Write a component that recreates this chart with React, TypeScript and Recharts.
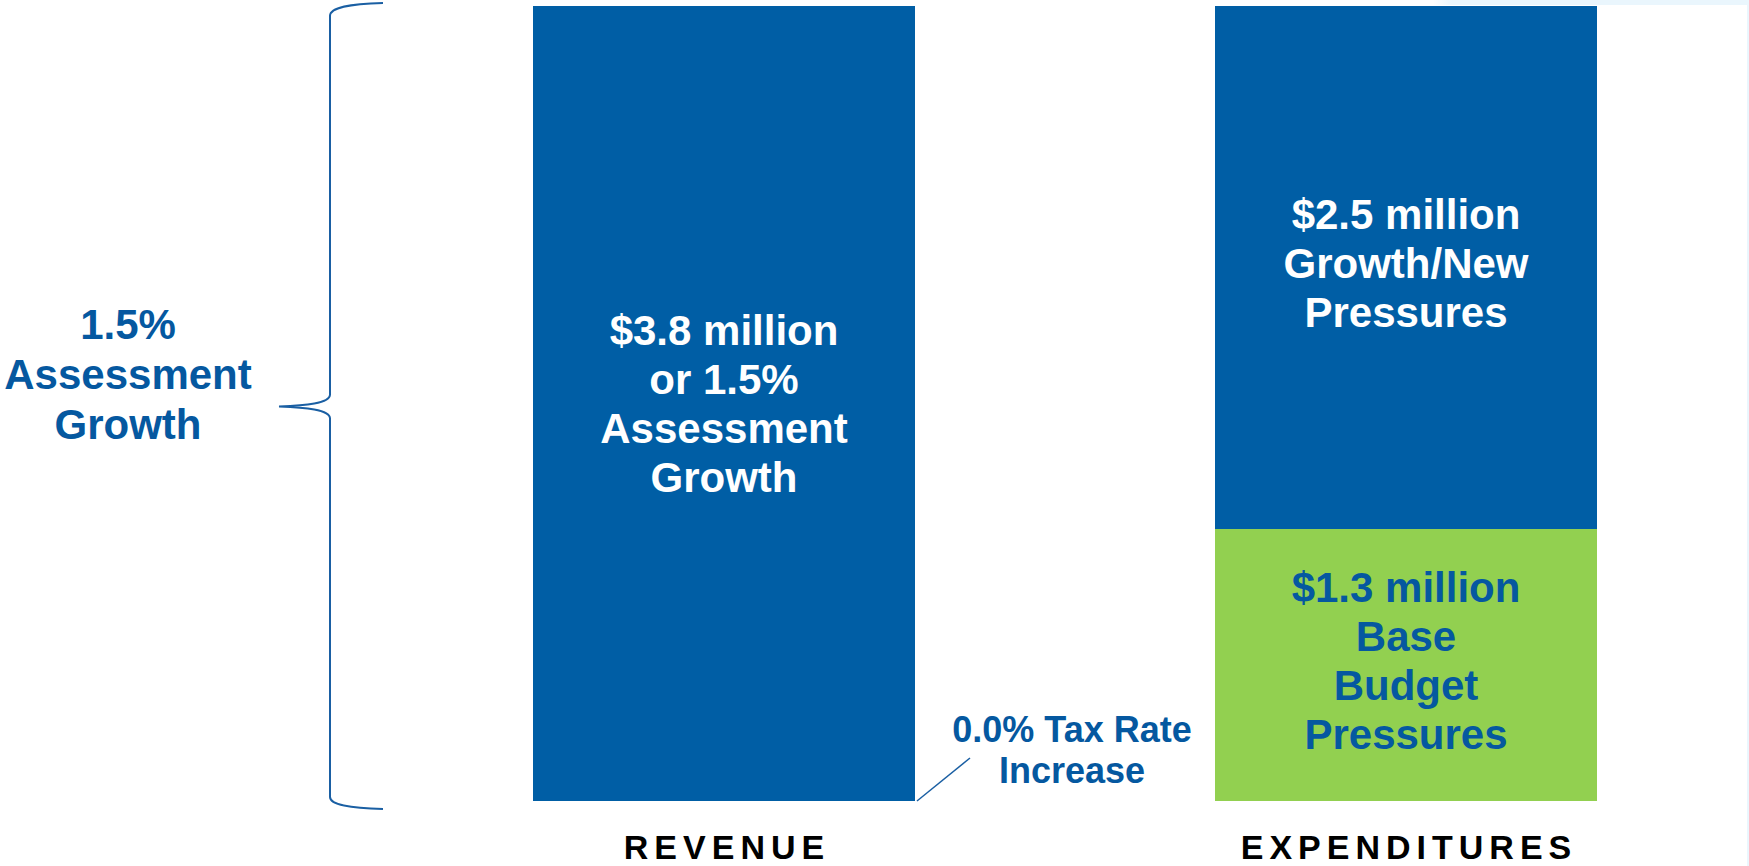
import { BarChart, Bar, XAxis, YAxis, LabelList } from 'recharts'

// categories and stacked values ($ millions)
const categories = ['REVENUE', 'EXPENDITURES']
const basePressures = [0, 1.3]
const growthPressures = [0, 2.5]
const assessmentGrowth = [3.8, 0]

// text written inside / beside the bars
const assessmentText = [['$3.8 million', 'or 1.5%', 'Assessment', 'Growth'], []]
const growthText = [[], ['$2.5 million', 'Growth/New', 'Pressures']]
const baseText = [[], ['$1.3 million', 'Base', 'Budget', 'Pressures']]
const taxText = [['0.0% Tax Rate', 'Increase'], []]
const braceText = [['1.5%', 'Assessment', 'Growth'], []]

const data = categories.map((category, i) => ({
  category,
  base: basePressures[i],
  growth: growthPressures[i],
  assessment: assessmentGrowth[i],
  baseLabel: baseText[i].join('\n'),
  growthLabel: growthText[i].join('\n'),
  assessmentLabel: assessmentText[i].join('\n'),
  taxLabel: taxText[i].join('\n'),
  braceLabel: braceText[i].join('\n'),
}))

const FONT = '"Liberation Sans", Arial, Helvetica, sans-serif'
const BLUE = '#005ea5'
const GREEN = '#92d050'
const TEXT_BLUE = '#0558a0'
const LINE_H = 49

const boxOf = (props: any) => {
  const vb = props.viewBox ?? props
  return { x: Number(vb.x), y: Number(vb.y), width: Number(vb.width), height: Number(vb.height) }
}

const rowsOf = (props: any) => (typeof props.value === 'string' && props.value ? props.value.split('\n') : [])

const barText = (color: string, shift: number) => (props: any) => {
  const rows = rowsOf(props)
  if (!rows.length) return null
  const { x, y, width, height } = boxOf(props)
  const cx = x + width / 2
  const cy = y + height / 2
  return (
    <text textAnchor="middle" fill={color} fontSize={42} fontWeight={700} fontFamily={FONT}>
      {rows.map((r: string, i: number) => (
        <tspan key={i} x={cx} y={cy + (i - (rows.length - 1) / 2) * LINE_H + shift}>{r}</tspan>
      ))}
    </text>
  )
}

// brace on the left of the revenue bar with its label
const renderBrace = (props: any) => {
  const rows = rowsOf(props)
  if (!rows.length) return null
  const { x, y, height } = boxOf(props)
  const bx = x - 203
  const bottom = y + height
  const mid = y + height / 2 + 3
  const d = [
    `M ${bx + 53} ${y - 3}`,
    `C ${bx + 20} ${y - 2} ${bx} ${y + 1} ${bx} ${y + 10}`,
    `L ${bx} ${mid - 12}`,
    `C ${bx} ${mid - 3} ${bx - 25} ${mid - 1} ${bx - 51} ${mid}`,
    `C ${bx - 25} ${mid + 1} ${bx} ${mid + 3} ${bx} ${mid + 12}`,
    `L ${bx} ${bottom - 4}`,
    `C ${bx} ${bottom + 4} ${bx + 20} ${bottom + 7} ${bx + 53} ${bottom + 8}`,
  ].join(' ')
  const tx = bx - 202
  return (
    <g>
      <path d={d} fill="none" stroke="#1a5fa3" strokeWidth={2} />
      <text textAnchor="middle" fill={TEXT_BLUE} fontSize={42} fontWeight={700} fontFamily={FONT}>
        {rows.map((r: string, i: number) => (
          <tspan key={i} x={tx} y={mid - 68 + i * 50}>{r}</tspan>
        ))}
      </text>
    </g>
  )
}

// leader line and text for the 0.0% tax rate increase, at the bottom right of the revenue bar
const renderTax = (props: any) => {
  const rows = rowsOf(props)
  if (!rows.length) return null
  const { x, y, width, height } = boxOf(props)
  const right = x + width
  const bottom = y + height
  return (
    <g>
      <line x1={right + 2} y1={bottom} x2={right + 55} y2={bottom - 43} stroke="#1a5fa3" strokeWidth={1.5} />
      <text textAnchor="middle" fill={TEXT_BLUE} fontSize={36} fontWeight={700} fontFamily={FONT}>
        {rows.map((r: string, i: number) => (
          <tspan key={i} x={right + 157} y={bottom - 59 + i * 41}>{r}</tspan>
        ))}
      </text>
    </g>
  )
}

const CategoryTick = (props: any) => {
  const { x, y, payload } = props
  return (
    <text
      x={x + 3}
      y={y}
      dy={50}
      textAnchor="middle"
      fill="#000"
      fontSize={34}
      fontWeight={700}
      fontFamily={FONT}
      letterSpacing={6}
    >
      {payload.value}
    </text>
  )
}

export default function App() {
  return (
    <div style={{ position: 'absolute', left: 0, top: 0, width: 1749, height: 866, background: '#fff' }}>
      <div
        style={{
          position: 'absolute',
          left: 1433,
          top: 0,
          width: 316,
          height: 5,
          background: 'linear-gradient(to right, #ffffff, #eaf6fd 6%)',
        }}
      />
      <div style={{ position: 'absolute', left: 1747, top: 0, width: 2, height: 866, background: '#eaf6fd' }} />
      <BarChart
        width={1749}
        height={866}
        data={data}
        margin={{ top: 6, right: 2, left: 383, bottom: 5 }}
        barSize={382}
      >
        <XAxis dataKey="category" axisLine={false} tickLine={false} height={60} tick={<CategoryTick />} interval={0} />
        <YAxis hide domain={[0, 3.8]} />
        <Bar dataKey="base" stackId="a" fill={GREEN} isAnimationActive={false}>
          <LabelList dataKey="baseLabel" content={barText(TEXT_BLUE, 10)} />
        </Bar>
        <Bar dataKey="growth" stackId="a" fill={BLUE} isAnimationActive={false}>
          <LabelList dataKey="growthLabel" content={barText('#fff', 10)} />
        </Bar>
        <Bar dataKey="assessment" stackId="a" fill={BLUE} isAnimationActive={false}>
          <LabelList dataKey="assessmentLabel" content={barText('#fff', 15)} />
          <LabelList dataKey="braceLabel" content={renderBrace} />
          <LabelList dataKey="taxLabel" content={renderTax} />
        </Bar>
      </BarChart>
    </div>
  )
}
